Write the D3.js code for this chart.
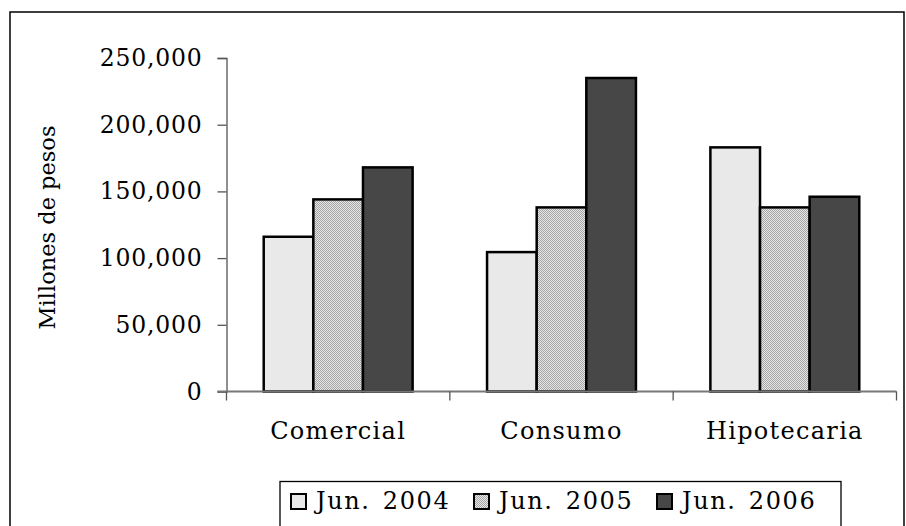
<!DOCTYPE html>
<html><head><meta charset="utf-8">
<script src="https://cdn.jsdelivr.net/npm/d3@7"></script>
<style>body{margin:0;background:#fff}svg{display:block}</style>
</head><body>
<script>
const categories = ["Comercial", "Consumo", "Hipotecaria"];
const seriesNames = ["Jun. 2004", "Jun. 2005", "Jun. 2006"];
const jun2004 = [116000, 104500, 183000];
const jun2005 = [144000, 138000, 138000];
const jun2006 = [168000, 235000, 146000];
const yTicks = [0, 50000, 100000, 150000, 200000, 250000];
const yLabel = "Millones de pesos";

(function () {
const series = [jun2004, jun2005, jun2006];
const W = 906, H = 526;
const svg = d3.select("body").append("svg").attr("width", W).attr("height", H);
const defs = svg.append("defs");
const pat = defs.append("pattern").attr("id", "hatch").attr("patternUnits", "userSpaceOnUse")
  .attr("width", 2).attr("height", 2);
pat.append("rect").attr("width", 2).attr("height", 2).attr("fill", "#e6e6e6");
pat.append("rect").attr("width", 1).attr("height", 1).attr("fill", "#a6a6a6");
pat.append("rect").attr("x", 1).attr("y", 1).attr("width", 1).attr("height", 1).attr("fill", "#a6a6a6");
const fills = ["#e9e9e9", "url(#hatch)", "#474747"];

// outer frame
svg.append("rect").attr("x", 10).attr("y", 12).attr("width", 894).attr("height", 530)
  .attr("fill", "none").attr("stroke", "#000").attr("stroke-width", 1.5);

const pLeft = 226.5, pRight = 896.5, pTop = 58, pBottom = 391.5;
const x = d3.scaleBand().domain(categories).range([pLeft, pRight]).paddingInner(0).paddingOuter(0);
const y = d3.scaleLinear().domain([0, 250000]).range([pBottom, pTop]);
const inner = d3.scaleBand().domain(d3.range(3)).range([0, x.bandwidth()]).paddingOuter(0.75).paddingInner(0);

const font = "'DejaVu Serif', serif";

// y axis
const ya = svg.append("g").attr("transform", `translate(${pLeft},0)`)
  .call(d3.axisLeft(y).tickValues(yTicks).tickSize(9).tickPadding(15).tickFormat(d3.format(",")));
ya.select(".domain").attr("stroke", "#555").attr("stroke-width", 1.3);
ya.selectAll(".tick line").attr("stroke", "#555").attr("stroke-width", 1.3);
ya.selectAll("text").attr("font-family", font).attr("font-size", 23.5).attr("fill", "#000")
  .attr("letter-spacing", "0.8px");

// bars
const g = svg.append("g");
categories.forEach((c, ci) => {
  series.forEach((s, si) => {
    g.append("rect")
      .attr("x", x(c) + inner(si))
      .attr("y", y(s[ci]))
      .attr("width", inner.bandwidth())
      .attr("height", y(0) - y(s[ci]))
      .attr("fill", fills[si]).attr("stroke", "#000").attr("stroke-width", 2.5);
  });
});

// x axis
const xa = svg.append("g").attr("transform", `translate(0,${pBottom})`);
xa.append("line").attr("x1", pLeft - 9).attr("x2", pRight).attr("stroke", "#777").attr("stroke-width", 2);
const bounds = [pLeft, pLeft + x.bandwidth(), pLeft + 2 * x.bandwidth(), pRight];
xa.selectAll(".tk").data(bounds).join("line").attr("x1", d => d).attr("x2", d => d)
  .attr("y1", 0).attr("y2", 9).attr("stroke", "#555").attr("stroke-width", 1.3);
xa.selectAll(".lbl").data(categories).join("text")
  .attr("x", d => x(d) + x.bandwidth() / 2).attr("y", 47)
  .attr("text-anchor", "middle").attr("font-family", font).attr("font-size", 24)
  .attr("letter-spacing", "1.3px").text(d => d);

// y label
svg.append("text").attr("transform", `translate(55,${(123 + 332) / 2}) rotate(-90)`)
  .attr("text-anchor", "middle").attr("font-family", font).attr("font-size", 22.5)
  .text(yLabel);

// legend
const lg = svg.append("g");
lg.append("rect").attr("x", 280).attr("y", 481.5).attr("width", 561).attr("height", 60)
  .attr("fill", "#fff").attr("stroke", "#000").attr("stroke-width", 1.3);
const lx = [291, 474, 657];
seriesNames.forEach((n, i) => {
  lg.append("rect").attr("x", lx[i]).attr("y", 494).attr("width", 15).attr("height", 15)
    .attr("fill", fills[i]).attr("stroke", "#000").attr("stroke-width", 2);
  lg.append("text").attr("x", lx[i] + 25).attr("y", 508.5).attr("font-family", font)
    .attr("font-size", 24).attr("letter-spacing", "1.6px").attr("word-spacing", "3px").text(n);
});
})();
</script>
</body></html>
